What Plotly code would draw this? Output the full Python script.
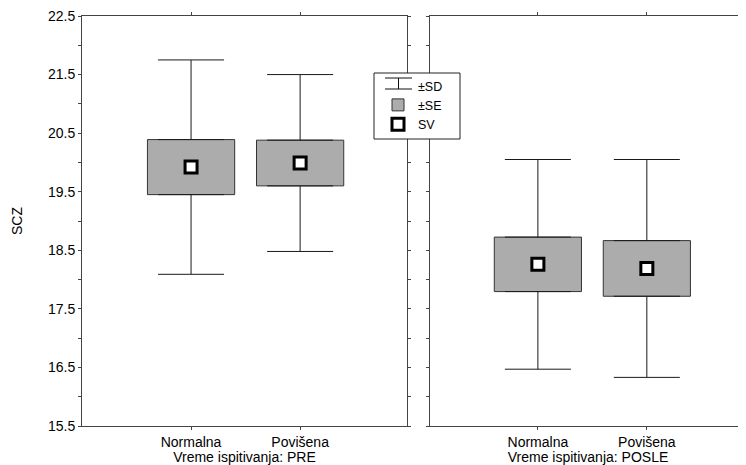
import plotly.graph_objects as go

# ---- data ----
categories = ["Normalna", "Povišena"]
panel_titles = ["Vreme ispitivanja: PRE", "Vreme ispitivanja: POSLE"]
mean_pre = [19.92, 19.99]
se_pre = [0.47, 0.39]
sd_pre = [1.83, 1.51]
mean_posle = [18.26, 18.19]
se_posle = [0.465, 0.475]
sd_posle = [1.79, 1.86]
y_ticks = [15.5, 16.5, 17.5, 18.5, 19.5, 20.5, 21.5, 22.5]
y_label = "SCZ"

# page is offset by the 8px body margin; work in page pixels then convert
OFF = 8
W, H = 746 - OFF, 465 - OFF
FONT = "Arial, Liberation Sans, sans-serif"
INK = "#1a1a1a"


def px(xp):
    return (xp - OFF) / W


def py(yp):
    return 1 - (yp - OFF) / H


fig = go.Figure()

panels = [(mean_pre, se_pre, sd_pre, "x", "y"),
          (mean_posle, se_posle, sd_posle, "x2", "y2")]

for i, (m, se, sd, xa, ya) in enumerate(panels):
    first = i == 0
    # SD whiskers (upper and lower parts, outside the SE box)
    fig.add_trace(go.Scatter(
        x=categories, y=[a + b for a, b in zip(m, se)],
        mode="markers", marker=dict(size=1, color="rgba(0,0,0,0)"),
        error_y=dict(type="data", symmetric=False,
                     array=[d - s for d, s in zip(sd, se)],
                     arrayminus=[0] * len(m),
                     color=INK, thickness=1, width=33),
        name="±SD", legendgroup="sd", showlegend=first,
        xaxis=xa, yaxis=ya, hoverinfo="skip"))
    fig.add_trace(go.Scatter(
        x=categories, y=[a - b for a, b in zip(m, se)],
        mode="markers", marker=dict(size=1, color="rgba(0,0,0,0)"),
        error_y=dict(type="data", symmetric=False,
                     array=[0] * len(m),
                     arrayminus=[d - s for d, s in zip(sd, se)],
                     color=INK, thickness=1, width=33),
        name="±SD", legendgroup="sd", showlegend=False,
        xaxis=xa, yaxis=ya, hoverinfo="skip"))
    # SE boxes
    fig.add_trace(go.Bar(
        x=categories, y=[2 * s for s in se],
        base=[a - b for a, b in zip(m, se)],
        width=0.8,
        marker=dict(color="#b0b0b0",
                    line=dict(color="#333333", width=1),
                    pattern=dict(shape=".", size=2, solidity=0.7,
                                 fgcolor="#4a4a4a", bgcolor="#e0e0e0")),
        name="±SE", legendgroup="se", showlegend=first,
        xaxis=xa, yaxis=ya))
    # means
    fig.add_trace(go.Scatter(
        x=categories, y=m, mode="markers",
        marker=dict(symbol="square", size=12, color="white",
                    line=dict(color="black", width=3)),
        name="SV", legendgroup="sv", showlegend=first,
        xaxis=xa, yaxis=ya))

axis_common = dict(showline=True, linecolor="#444444", linewidth=1,
                   ticks="outside", ticklen=3, tickcolor="#444444",
                   showgrid=False, zeroline=False,
                   tickfont=dict(family=FONT, size=14, color="black"))

# legend frame and the ±SD legend glyph (I-beam)
shapes = [
    dict(type="rect", xref="paper", yref="paper",
         x0=px(374), x1=px(460), y0=py(139), y1=py(73),
         line=dict(color="#222222", width=1), fillcolor="white",
         layer="above"),
    dict(type="path", xref="paper", yref="paper",
         path=(f"M{px(385)},{py(78)} L{px(412)},{py(78)} "
               f"M{px(398.5)},{py(78)} L{px(398.5)},{py(89)} "
               f"M{px(385)},{py(89)} L{px(412)},{py(89)}"),
         line=dict(color="#111111", width=1), layer="above"),
]

fig.update_layout(
    width=W, height=H,
    margin=dict(l=0, r=0, t=0, b=0),
    paper_bgcolor="white", plot_bgcolor="white",
    font=dict(family=FONT, size=14, color="black"),
    barmode="overlay",
    showlegend=True,
    legend=dict(x=px(378), y=py(71), xanchor="left", yanchor="top",
                borderwidth=0, bgcolor="rgba(0,0,0,0)",
                font=dict(family=FONT, size=12.5), tracegroupgap=0,
                itemwidth=30),
    shapes=shapes,
    xaxis=dict(domain=[px(82), px(407)], range=[-1.0, 1.98], type="category",
               mirror="ticks", automargin=False,
               title=dict(text=panel_titles[0], standoff=2,
                          font=dict(family=FONT, size=14)),
               **axis_common),
    xaxis2=dict(domain=[px(430), 1.0], range=[-0.99, 1.91], type="category",
                mirror="ticks", automargin=False, anchor="y2",
                title=dict(text=panel_titles[1], standoff=2,
                           font=dict(family=FONT, size=14)),
                **axis_common),
    yaxis=dict(domain=[py(426), py(16)], range=[15.5, 22.5],
               tickvals=y_ticks, ticktext=[f"{v:.1f}" for v in y_ticks],
               ticklabeloverflow="allow",
               minor=dict(dtick=0.5, ticklen=3, ticks="outside",
                          tickcolor="#444444", tick0=15.5),
               mirror="ticks", automargin=False,
               title=dict(text=y_label, standoff=22,
                          font=dict(family=FONT, size=14)),
               **axis_common),
    yaxis2=dict(domain=[py(426), py(16)], range=[15.5, 22.5],
                tickvals=y_ticks, showticklabels=False,
                minor=dict(dtick=0.5, ticklen=3, ticks="outside",
                           tickcolor="#444444", tick0=15.5),
                mirror=False, automargin=False, anchor="x2",
                **axis_common),
)

fig.write_html("out.html")
